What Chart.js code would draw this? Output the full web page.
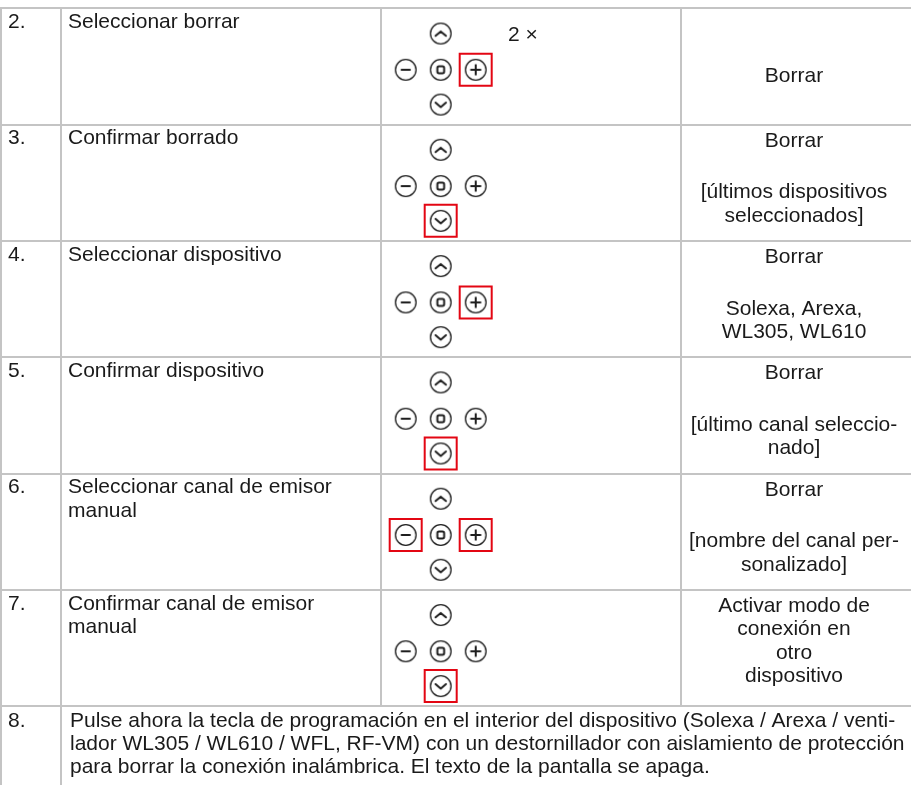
<!DOCTYPE html>
<html>
<head>
<meta charset="utf-8">
<script src="https://cdn.jsdelivr.net/npm/chart.js@4/dist/chart.umd.min.js"></script>
<style>
  html, body { margin: 0; padding: 0; background: #fff; }
  canvas { display: block; }
</style>
</head>
<body>
<canvas id="steps" width="911" height="785"></canvas>
<script>
// Borrar conexión — tabla de pasos

const steps = ['2.', '3.', '4.', '5.', '6.', '7.'];
const actions = [
  ['Seleccionar borrar'],
  ['Confirmar borrado'],
  ['Seleccionar dispositivo'],
  ['Confirmar dispositivo'],
  ['Seleccionar canal de emisor', 'manual'],
  ['Confirmar canal de emisor', 'manual']
];
const pressedKeys = [['plus'], ['down'], ['plus'], ['down'], ['minus', 'plus'], ['down']];
const pressCount = ['2 ×', '', '', '', '', ''];
const displayTop = [
  [],
  ['Borrar'],
  ['Borrar'],
  ['Borrar'],
  ['Borrar'],
  ['Activar modo de', 'conexión en', 'otro', 'dispositivo']
];
const displayBody = [
  ['Borrar'],
  ['[últimos dispositivos', 'seleccionados]'],
  ['Solexa, Arexa,', 'WL305, WL610'],
  ['[último canal seleccio-', 'nado]'],
  ['[nombre del canal per-', 'sonalizado]'],
  []
];
const finalStep = '8.';
const finalText = [
  'Pulse ahora la tecla de programación en el interior del dispositivo (Solexa / Arexa / venti-',
  'lador WL305 / WL610 / WFL, RF-VM) con un destornillador con aislamiento de protección',
  'para borrar la conexión inalámbrica. El texto de la pantalla se apaga.'
];

// layout
const ROW_H = 116.3;
const TABLE_TOP = 8.5;
const Y_MIN = 2 - TABLE_TOP / ROW_H;
const Y_MAX = Y_MIN + 785 / ROW_H;
const COL = [1, 61, 381, 681];
const PAD_X = 440.7, PAD_STEP = 35;
const KEYS = {
  up:     { dx: 0,  dy: 0.215 },
  minus:  { dx: -1, dy: 0.527 },
  center: { dx: 0,  dy: 0.527 },
  plus:   { dx: 1,  dy: 0.527 },
  down:   { dx: 0,  dy: 0.826 }
};
const FONT = '21px "Liberation Sans", Arial, sans-serif';
const INK = '#1a1a1a';
const GRID = '#c4c4c4';
const LINE = 23.3;

function keyIcon(kind) {
  const c = document.createElement('canvas');
  c.width = 26; c.height = 26;
  const g = c.getContext('2d');
  g.strokeStyle = '#1e1e1e';
  g.lineWidth = 1.3;
  g.beginPath();
  g.arc(13, 13, 10.3, 0, Math.PI * 2);
  g.stroke();
  g.lineWidth = 2;
  g.lineCap = 'round';
  g.lineJoin = 'round';
  g.beginPath();
  if (kind === 'up') {
    g.moveTo(7.8, 15.3); g.lineTo(13, 10.9); g.lineTo(18.2, 15.3);
  } else if (kind === 'down') {
    g.moveTo(7.8, 11); g.lineTo(13, 15.4); g.lineTo(18.2, 11);
  } else if (kind === 'minus') {
    g.moveTo(8.8, 13); g.lineTo(17.2, 13);
  } else if (kind === 'plus') {
    g.moveTo(8.3, 13); g.lineTo(17.7, 13);
    g.moveTo(13, 8.3); g.lineTo(13, 17.7);
  } else {
    g.roundRect(9.6, 9.6, 6.8, 6.8, 1.6);
  }
  g.stroke();
  return c;
}

const stepNum = s => parseInt(s, 10);

const keyDatasets = Object.keys(KEYS).map(k => ({
  label: k,
  data: steps.map(s => ({ x: PAD_X + KEYS[k].dx * PAD_STEP, y: stepNum(s) + KEYS[k].dy })),
  pointStyle: keyIcon(k),
  pointRadius: 11,
  pointHoverRadius: 11
}));

const highlight = {
  label: 'pulsar',
  data: steps.flatMap((s, i) => pressedKeys[i].map(k => ({
    x: PAD_X + KEYS[k].dx * PAD_STEP,
    y: stepNum(s) + KEYS[k].dy
  }))),
  pointStyle: 'rect',
  pointRadius: 16 / Math.SQRT1_2,
  pointBorderWidth: 2,
  pointBorderColor: '#e30613',
  pointBackgroundColor: 'rgba(0,0,0,0)'
};

const tablePlugin = {
  id: 'tableGrid',
  beforeDatasetsDraw(chart) {
    const { ctx, scales: { y } } = chart;
    const top = Math.round(y.getPixelForValue(2));
    const lastRow = Math.round(y.getPixelForValue(8));
    ctx.save();
    ctx.strokeStyle = GRID;
    ctx.lineWidth = 2;
    ctx.beginPath();
    for (let k = 2; k <= 8; k++) {
      const py = Math.round(y.getPixelForValue(k));
      ctx.moveTo(0, py); ctx.lineTo(911, py);
    }
    ctx.moveTo(COL[0], top - 1); ctx.lineTo(COL[0], 785);
    ctx.moveTo(COL[1], top - 1); ctx.lineTo(COL[1], 785);
    ctx.moveTo(COL[2], top - 1); ctx.lineTo(COL[2], lastRow);
    ctx.moveTo(COL[3], top - 1); ctx.lineTo(COL[3], lastRow);
    ctx.stroke();
    ctx.restore();
  },
  afterDatasetsDraw(chart) {
    const { ctx, scales: { y } } = chart;
    ctx.save();
    ctx.font = FONT;
    ctx.fillStyle = INK;
    ctx.textBaseline = 'alphabetic';
    steps.forEach((s, i) => {
      const rowTop = y.getPixelForValue(stepNum(s));
      ctx.textAlign = 'left';
      ctx.fillText(s, 8, rowTop + 19.5);
      actions[i].forEach((t, j) => ctx.fillText(t, 68, rowTop + 19.5 + j * LINE));
      if (pressCount[i]) ctx.fillText(pressCount[i], 508, rowTop + 32);
      ctx.textAlign = 'center';
      displayTop[i].forEach((t, j) => ctx.fillText(t, 794, rowTop + 22 + j * LINE));
      displayBody[i].forEach((t, j) => ctx.fillText(t, 794, rowTop + 73.5 + j * LINE));
    });
    const lastTop = y.getPixelForValue(stepNum(finalStep));
    ctx.textAlign = 'left';
    ctx.fillText(finalStep, 8, lastTop + 20.5);
    finalText.forEach((t, j) => ctx.fillText(t, 70, lastTop + 20.5 + j * LINE));
    ctx.restore();
  }
};

new Chart(document.getElementById('steps'), {
  type: 'scatter',
  data: { datasets: [...keyDatasets, highlight] },
  options: {
    responsive: false,
    animation: false,
    events: [],
    layout: { autoPadding: false, padding: 0 },
    plugins: { legend: { display: false }, tooltip: { enabled: false } },
    scales: {
      x: { type: 'linear', display: false, min: 0, max: 911 },
      y: { type: 'linear', display: false, reverse: true, min: Y_MIN, max: Y_MAX }
    }
  },
  plugins: [tablePlugin]
});
</script>
</body>
</html>
